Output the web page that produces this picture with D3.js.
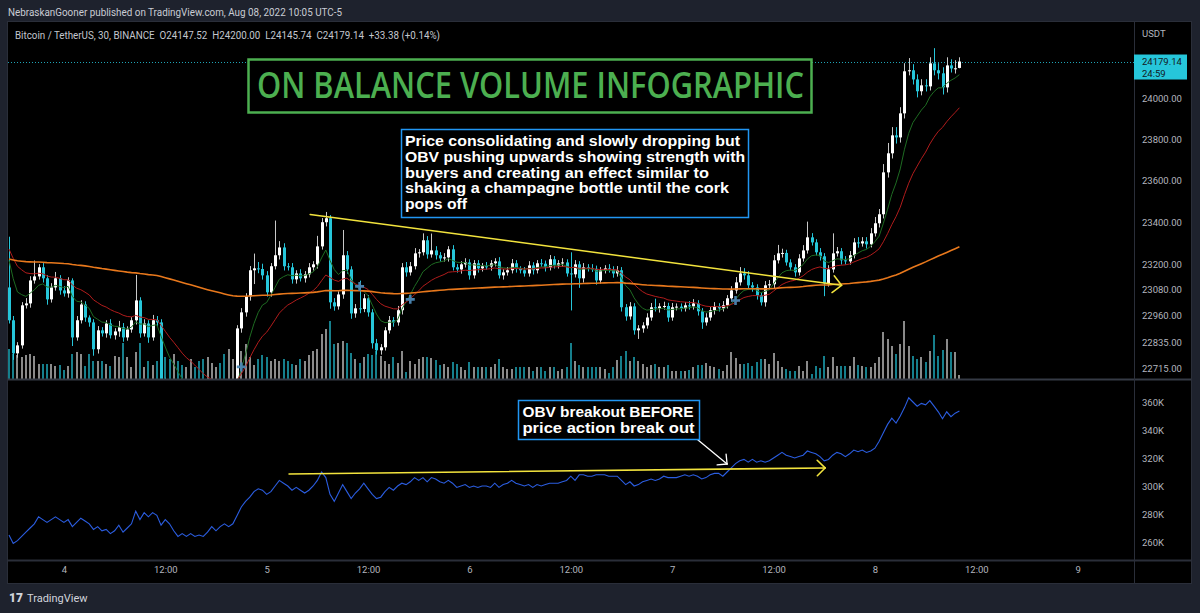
<!DOCTYPE html>
<html><head><meta charset="utf-8">
<script src="https://cdn.jsdelivr.net/npm/d3@7"></script>
<style>
html,body{margin:0;padding:0;background:#1e222d;}
svg{display:block;}
</style></head><body>
<svg id="c" width="1200" height="613"></svg>
<script>
// ---------- DATA (BTC/USDT, 30m bars, Aug 3 17:30 -> Aug 8 10:00, UTC-5) ----------
const firstOpen = 23091;
const lastOpen = 24147.52;
const closes = [
22937,22783,22820,23007,23016,23124,23143,23186,23134,23035,
23091,23134,23077,23063,23124,22857,22937,23011,22950,22927,
22802,22890,22876,22922,22867,22885,22904,22857,22894,22937,
23030,22876,22922,22857,22937,22927,22650,22610,22580,22600,
22560,22530,22550,22590,22540,22510,22490,22520,22560,22600,
22570,22550,22590,22630,22899,22974,23049,23172,23181,23178,
23148,23068,23191,23243,23280,23191,23186,23129,23157,23134,
23153,23186,23200,23285,23400,23419,23021,23002,23058,23243,
23176,22969,22993,22990,23040,22974,22830,22797,22811,22890,
22937,22927,22984,23186,23162,23191,23252,23257,23314,23247,
23266,23243,23228,23233,23271,23186,23176,23200,23209,23148,
23205,23181,23191,23190,23205,23214,23148,23162,23172,23205,
23181,23172,23157,23195,23172,23205,23203,23186,23224,23195,
23205,23209,23157,23153,23200,23134,23186,23181,23179,23124,
23172,23181,23176,23157,23172,22998,22955,23002,22890,22899,
22913,22950,22998,22993,23002,23004,22950,22998,23001,22993,
23007,23002,23016,22979,22927,22950,22984,23002,22993,23007,
23040,23077,23115,23157,23148,23101,23091,23054,23021,23101,
23106,23219,23252,23254,23209,23186,23162,23228,23266,23328,
23304,23257,23238,23110,23176,23252,23262,23219,23214,23243,
23304,23299,23309,23295,23347,23395,23438,23639,23731,23818,
23808,23925,24131,24136,24091,24033,24062,24057,24170,24136,
24121,24052,24160,24145,24145.76,24179.14];
const wickHigh = [
240,20,15,15,25,20,75,15,20,15, 20,30,15,20,15,10,20,20,15,10,
15,20,15,15,20,15,30,20,15,15, 120,15,20,15,25,20,15,20,15,20,
15,20,15,20,15,20,15,20,15,20, 15,20,15,20,15,20,15,20,70,30,
25,20,15,165,30,20,15,20,15,20, 15,20,15,50,20,30,15,20,15,120,
20,15,20,130,20,15,15,20,15,15, 20,15,20,20,25,20,25,15,33,20,
80,20,15,20,15,20,15,15,20,15, 15,15,15,20,15,15,20,15,15,20,
15,10,15,20,15,15,20,15,20,15, 15,20,15,100,20,15,20,15,20,15,
15,15,20,15,20,15,15,20,15,15, 15,20,20,40,15,20,15,20,15,15,
15,20,20,15,15,20,15,20,15,20, 15,20,25,30,25,20,15,15,15,20,
20,25,40,20,15,15,15,20,25,75, 20,15,20,15,20,95,20,15,20,20,
20,25,20,20,25,30,25,40,50,40, 40,30,40,60,30,25,30,30,30,75,
35,30,40,30,40,20.86];
const wickLow = [
15,30,20,15,15,20,15,15,20,25, 15,15,20,15,20,40,15,15,20,20,
30,20,15,20,15,20,25,20,15,15, 20,20,15,25,15,20,40,30,30,30,
30,30,30,30,30,30,30,30,30,30, 30,30,30,30,60,20,20,20,65,20,
20,20,20,15,20,20,15,20,20,15, 20,15,15,20,15,20,30,20,15,20,
20,25,20,20,15,20,25,20,20,15, 15,20,15,20,20,15,15,20,15,20,
15,20,15,15,20,15,15,20,15,20, 15,20,15,15,20,15,15,20,15,15,
20,15,15,15,20,15,15,20,15,15, 15,15,15,170,15,45,20,15,15,20,
15,15,15,20,15,20,20,15,20,40, 20,15,15,15,20,15,20,15,15,15,
15,15,15,20,30,15,15,20,15,15, 15,15,15,15,20,15,20,20,15,20,
15,20,15,20,15,15,20,15,15,15, 15,15,20,60,15,15,15,20,15,15,
15,20,15,20,15,15,20,20,25,25, 30,25,25,20,25,30,20,25,20,25,
30,35,25,20,25,1.78];
const volumes = [
1200,1000,960,880,960,1000,920,600,600,600, 600,520,560,360,520,1000,1080,1000,520,1000,
720,720,720,600,520,920,880,1440,880,480, 1080,1440,480,720,560,720,1120,880,800,1000,
720,560,480,800,480,720,800,880,640,480, 640,1000,1200,800,1440,1120,1400,880,560,800,
960,880,720,800,720,800,720,600,560,800, 720,960,1120,1200,1800,2000,2320,1400,1440,1520,
1440,1040,800,640,880,1000,960,1120,920,720, 600,880,640,1120,280,720,600,800,880,880,
840,760,560,600,480,680,600,480,360,680, 480,480,480,480,480,600,800,480,400,400,
480,480,480,480,320,480,480,320,480,480, 320,400,480,1440,720,560,480,480,480,480,
480,400,240,480,760,920,1120,720,880,720, 600,480,560,600,480,480,560,320,320,320,
320,360,480,560,560,640,520,480,400,320, 560,1080,840,600,600,640,520,680,800,800,
600,1040,720,480,400,320,320,520,320,720, 200,520,440,920,480,880,520,520,520,520,
880,560,520,480,480,640,880,1880,1600,1320, 1000,1400,2320,1320,920,800,880,680,1120,1760,
920,1160,1600,1080,1080,160];
// On Balance Volume, thousands
const obv = [
265,259,261,264,267,270,273,278,276,274, 276,278,276,274,276,271,274,277,275,273,
269,271,268,269,266,268,272,267,270,273, 282,276,281,278,281,279,272,276,273,268,
264,266,264,266,264,265,264,267,271,268, 271,273,271,273,279,285,289,292,296,298,
297,294,296,300,304,302,300,297,299,297, 295,297,300,304,310,306,294,289,295,301,
296,291,295,298,302,298,294,291,292,296, 299,297,300,302,301,303,306,304,306,303,
306,305,303,302,304,302,299,300,301,299, 300,299,300,300,299,302,299,301,302,304,
302,301,300,301,299,301,300,301,302,302, 302,303,304,307,304,308,308,307,307,308,
308,308,307,307,307,304,301,303,300,301, 303,304,305,304,305,307,306,306,306,307,
308,307,308,307,305,306,308,309,309,307, 310,313,316,318,319,317,319,317,318,317,
318,320,322,324,322,321,320,321,322,325, 324,323,321,318,319,322,324,323,321,323,
325.7,324.5,325.7,324,325,327,332,338,344,348.5, 345,350,356,363,360,357,359,358,361,357,
353,348,353,349.5,352,353.5];

const priceTicks = [22715, 22835, 22960, 23080, 23200, 23400, 23600, 23800, 24000];
const obvTicks = [260, 280, 300, 320, 340, 360];
const timeTickBars = [13, 37, 61, 85, 109, 133, 157, 181, 205, 229, 253];
const timeTickLabels = ["4","12:00","5","12:00","6","12:00","7","12:00","8","12:00","9"];
const emaLengths = [9, 21, 200];
const emaSeeds = [23290, 23306, 23228];
const priceTrend = [{bar: 71.3, price: 23437}, {bar: 197.1, price: 23101}];
const obvTrend = [{bar: 66.3, value: 308.6}, {bar: 193.2, value: 312.9}];
const markers = [{bar: 55, price: 22720}, {bar: 83, price: 23096}, {bar: 95, price: 23035}, {bar: 172, price: 23030}];
const headerText = "NebraskanGooner published on TradingView.com, Aug 08, 2022 10:05 UTC-5";
const symbolText = "Bitcoin / TetherUS, 30, BINANCE";
const titleText = "ON BALANCE VOLUME INFOGRAPHIC";
const noteLines = ["Price consolidating and slowly dropping but","OBV pushing upwards showing strength with","buyers and creating an effect similar to","shaking a champagne bottle until the cork","pops off"];
const obvNoteLines = ["OBV breakout BEFORE","price action break out"];

// ---------- LAYOUT ----------
const svg = d3.select("#c");
const L = 8, R = 1134, AX = 1191, PT = 22, PB = 379, OT = 381, OB = 560, TB = 583;
const font = "Roboto, 'Noto Sans', sans-serif";
const noteFont = "'Liberation Sans', Arial, sans-serif";
const axisCol = "#b2b5be";
const upCol = "#ffffff", dnCol = "#26c6da";

svg.append("rect").attr("width",1200).attr("height",613).attr("fill","#1e222d");
svg.append("rect").attr("x",L).attr("y",PT).attr("width",AX-L).attr("height",TB-PT).attr("fill","#000");

const n = closes.length;
const opens = closes.map((c,i)=> i === n-1 ? lastOpen : (i ? closes[i-1] : firstOpen));
const highs = closes.map((c,i)=> Math.max(c, opens[i]) + wickHigh[i]);
const lows  = closes.map((c,i)=> Math.min(c, opens[i]) - wickLow[i]);

const x = d3.scaleLinear().domain([0, n-1]).range([9, 959.4]);
const yP = d3.scaleLog().domain([22715, 24000]).range([368, 98]);
const yV = d3.scaleLinear().domain([0, 2480]).range([PB, 317]);
const yO = d3.scaleLinear().domain([260, 360]).range([542, 402]);

const defs = svg.append("defs");
defs.append("clipPath").attr("id","pclip").append("rect").attr("x",L).attr("y",PT).attr("width",R-L).attr("height",PB-PT);
defs.append("clipPath").attr("id","oclip").append("rect").attr("x",L).attr("y",OT).attr("width",R-L).attr("height",OB-OT);

const pg = svg.append("g").attr("clip-path","url(#pclip)");
const idx = d3.range(n);

// volume
pg.append("g").selectAll("rect").data(idx).join("rect")
  .attr("x", i => Math.round(x(i)) - 1).attr("width", 2)
  .attr("y", i => yV(volumes[i])).attr("height", i => PB - yV(volumes[i]))
  .attr("fill", i => closes[i] >= opens[i] ? "#8a8a8a" : "#167f8c");

// current price dotted line
pg.append("line").attr("x1",L).attr("x2",R).attr("y1",Math.round(yP(closes[n-1]))+0.5).attr("y2",Math.round(yP(closes[n-1]))+0.5)
  .attr("stroke","#1fa3b5").attr("stroke-dasharray","1,2").attr("stroke-width",1);

// candles
const cg = pg.append("g");
cg.selectAll("line").data(idx).join("line")
  .attr("x1", i => Math.round(x(i)) + 0.5).attr("x2", i => Math.round(x(i)) + 0.5)
  .attr("y1", i => yP(highs[i])).attr("y2", i => yP(lows[i]))
  .attr("stroke", i => closes[i] >= opens[i] ? "#c8c8c8" : dnCol).attr("stroke-width",1);
cg.selectAll("rect").data(idx).join("rect")
  .attr("x", i => Math.round(x(i)) - 1).attr("width", 3)
  .attr("y", i => yP(Math.max(opens[i], closes[i])))
  .attr("height", i => Math.max(1, yP(Math.min(opens[i], closes[i])) - yP(Math.max(opens[i], closes[i]))))
  .attr("fill", i => closes[i] >= opens[i] ? upCol : dnCol);

// EMAs
function ema(vals, len, seed){ const a = 2/(len+1); let e = seed; return vals.map(v => (e = e + a*(v-e))); }
const emaCols = ["#1e6b22", "#b01c1c", "#e8781c"];
const emaW = [1, 1, 1.6];
emaLengths.forEach((len, k) => {
  const vals = ema(closes, len, emaSeeds[k]);
  pg.append("path").datum(vals)
    .attr("d", d3.line().x((d,i)=>x(i)).y(d=>yP(d)))
    .attr("fill","none").attr("stroke",emaCols[k]).attr("stroke-width",emaW[k]);
});

// markers
markers.forEach(m => {
  const cx = x(m.bar), cy = yP(m.price);
  pg.append("path").attr("d",`M${cx-4.5},${cy}H${cx+4.5}M${cx},${cy-4.5}V${cy+4.5}`)
    .attr("stroke","#4b87b5").attr("stroke-width",2.6).attr("opacity",0.95);
});

function arrowLine(g, p1, p2, col, w, len){
  g.append("line").attr("x1",p1[0]).attr("y1",p1[1]).attr("x2",p2[0]).attr("y2",p2[1])
    .attr("stroke",col).attr("stroke-width",w).attr("stroke-linecap","round");
  const th = Math.atan2(p2[1]-p1[1], p2[0]-p1[0]);
  [0.78, -0.78].forEach(a => {
    g.append("line").attr("x1",p2[0]).attr("y1",p2[1])
      .attr("x2",p2[0]-len*Math.cos(th+a)).attr("y2",p2[1]-len*Math.sin(th+a))
      .attr("stroke",col).attr("stroke-width",w).attr("stroke-linecap","round");
  });
}
arrowLine(svg.append("g"), [x(priceTrend[0].bar), yP(priceTrend[0].price)], [x(priceTrend[1].bar), yP(priceTrend[1].price)], "#f2e33d", 1.5, 12);

// OBV pane
const og = svg.append("g").attr("clip-path","url(#oclip)");
og.append("path").datum(obv)
  .attr("d", d3.line().x((d,i)=>x(i)).y(d=>yO(d)))
  .attr("fill","none").attr("stroke","#2b5de0").attr("stroke-width",1.1);
arrowLine(svg.append("g"), [x(obvTrend[0].bar), yO(obvTrend[0].value)], [x(obvTrend[1].bar), yO(obvTrend[1].value)], "#f2e33d", 1.6, 11);
arrowLine(svg.append("g"), [695, 437.5], [x(170), yO(315.7)], "#ffffff", 1.3, 10);

// frame lines
const fr = svg.append("g").attr("stroke","#2a2e39").attr("stroke-width",1).attr("fill","none");
fr.append("rect").attr("x",L-0.5).attr("y",PT-0.5).attr("width",AX-L+1).attr("height",TB-PT+1);
fr.append("line").attr("x1",L).attr("x2",AX).attr("y1",PB+0.5).attr("y2",PB+0.5).attr("stroke","#353a45").attr("stroke-width",2);
fr.append("line").attr("x1",L).attr("x2",AX).attr("y1",OB+0.5).attr("y2",OB+0.5).attr("stroke","#2a2e39").attr("stroke-width",2);
fr.append("line").attr("x1",R+0.5).attr("x2",R+0.5).attr("y1",PT).attr("y2",TB);

// axes
function styleAxis(g){
  g.select(".domain").remove();
  g.selectAll(".tick line").remove();
  g.selectAll("text").attr("fill",axisCol).attr("font-family",font).attr("font-size","9.5px");
}
svg.append("g").attr("transform",`translate(${R+8},0)`)
  .call(d3.axisRight(yP).tickValues(priceTicks).tickFormat(d=>d.toFixed(2)).tickSize(0).tickPadding(0))
  .call(styleAxis);
svg.append("g").attr("transform",`translate(${R+8},0)`)
  .call(d3.axisRight(yO).tickValues(obvTicks).tickFormat(d=>d+"K").tickSize(0).tickPadding(0))
  .call(styleAxis);
svg.append("g").attr("transform",`translate(0,${OB+6})`)
  .call(d3.axisBottom(x).tickValues(timeTickBars).tickFormat((d,i)=>timeTickLabels[i]).tickSize(0).tickPadding(0))
  .call(styleAxis);
svg.append("text").attr("x",R+8).attr("y",37).text("USDT").attr("fill",axisCol).attr("font-family",font).attr("font-size","9.5px");

// price label
const cy0 = yP(closes[n-1]);
svg.append("rect").attr("x",R).attr("y",cy0-7).attr("width",53).attr("height",25).attr("fill","#26c6da");
svg.append("text").attr("x",R+8).attr("y",cy0+3.5).text(closes[n-1].toFixed(2)).attr("fill","#131722").attr("font-family",font).attr("font-size","9.5px");
svg.append("text").attr("x",R+8).attr("y",cy0+15).text("24:59").attr("fill","#131722").attr("font-family",font).attr("font-size","9.5px");

// header
svg.append("text").attr("x",8).attr("y",16).text(headerText).attr("fill","#c9ccd4").attr("font-family",font).attr("font-size","10px").attr("textLength",334).attr("lengthAdjust","spacingAndGlyphs");
const o = opens[n-1], h = highs[n-1], l = lows[n-1], c = closes[n-1];
const chg = c - closes[n-2];
const legendStr = `${symbolText}  O${o.toFixed(2)}  H${h.toFixed(2)}  L${l.toFixed(2)}  C${c.toFixed(2)}  +${chg.toFixed(2)} (+${(chg/closes[n-2]*100).toFixed(2)}%)`;
svg.append("text").attr("x",15).attr("y",39).attr("font-family",font).attr("font-size","10px")
  .style("white-space","pre").attr("fill","#c3c6ce").text(legendStr)
  .attr("textLength",425).attr("lengthAdjust","spacingAndGlyphs");

// title box
svg.append("rect").attr("x",248.5).attr("y",59.5).attr("width",563).attr("height",53).attr("fill","#000").attr("stroke","#4caf50").attr("stroke-width",2.5);
svg.append("text").attr("x",257).attr("y",97.5).text(titleText).attr("fill","#4caf50")
  .attr("font-family","'Open Sans', 'Noto Sans', sans-serif").attr("font-weight",600).attr("font-size","36px")
  .attr("textLength",547).attr("lengthAdjust","spacingAndGlyphs");

// note box
svg.append("rect").attr("x",401.5).attr("y",129.5).attr("width",347).attr("height",88).attr("fill","#000").attr("stroke","#2196f3").attr("stroke-width",1.5);
const noteW = [335, 340, 304, 324, 62];
noteLines.forEach((t,k) => {
  svg.append("text").attr("x",405).attr("y",146 + k*15.8).text(t).attr("fill","#fff")
    .attr("font-family",noteFont).attr("font-weight",700).attr("font-size","14px")
    .attr("textLength",noteW[k]).attr("lengthAdjust","spacingAndGlyphs");
});
// OBV note box
svg.append("rect").attr("x",518.5).attr("y",400.5).attr("width",181).attr("height",39).attr("fill","#000").attr("stroke","#2196f3").attr("stroke-width",1.5);
const obvW = [171, 172];
obvNoteLines.forEach((t,k) => {
  svg.append("text").attr("x",522.5).attr("y",416.5 + k*16).text(t).attr("fill","#fff")
    .attr("font-family",noteFont).attr("font-weight",700).attr("font-size","14px")
    .attr("textLength",obvW[k]).attr("lengthAdjust","spacingAndGlyphs");
});

// footer logo
svg.append("text").attr("x",9).attr("y",602).text("17").attr("fill","#d1d4dc").attr("font-family",font).attr("font-weight",900).attr("font-size","12px");
svg.append("text").attr("x",27).attr("y",602).text("TradingView").attr("fill","#d1d4dc").attr("font-family",font).attr("font-size","11px");
</script>
</body></html>
